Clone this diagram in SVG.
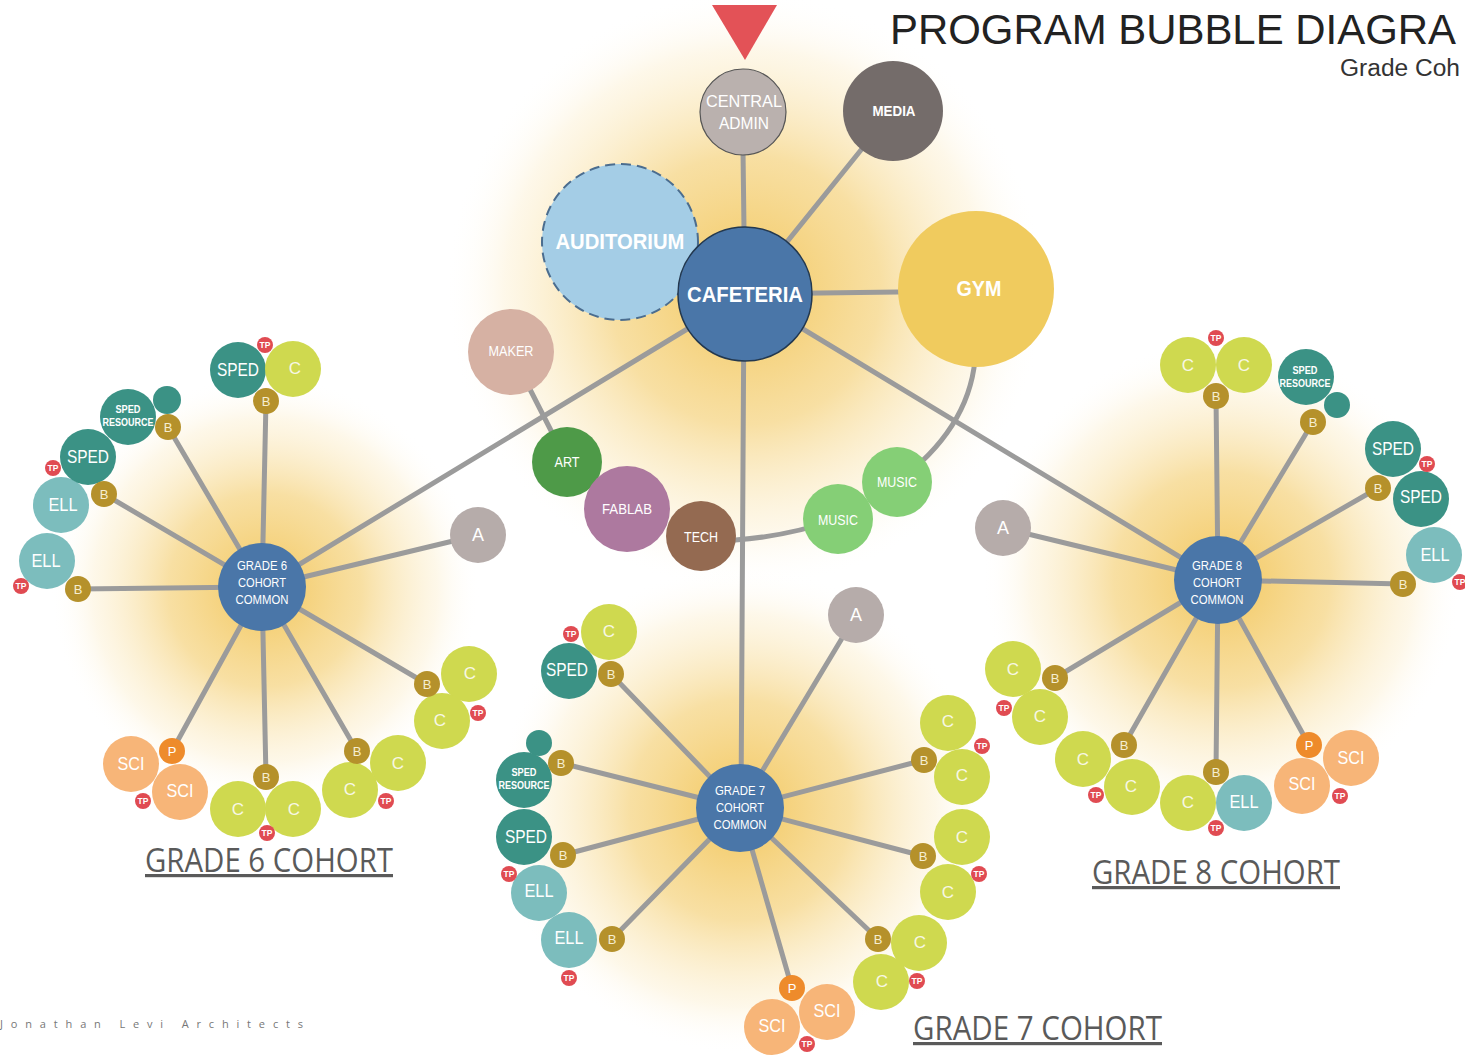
<svg xmlns="http://www.w3.org/2000/svg" width="1465" height="1055" viewBox="0 0 1465 1055">
<defs>
<radialGradient id="glow" cx="0.5" cy="0.5" r="0.5">
<stop offset="0" stop-color="#f2c455" stop-opacity="0.95"/>
<stop offset="0.45" stop-color="#f5d37f" stop-opacity="0.72"/>
<stop offset="0.8" stop-color="#fbeac0" stop-opacity="0.35"/>
<stop offset="1" stop-color="#ffffff" stop-opacity="0"/>
</radialGradient>
<style>
.n text{font-family:"Liberation Sans Narrow","Liberation Sans",Arial,sans-serif;fill:#fff;text-anchor:middle;dominant-baseline:central}
.c circle{fill:#cfd94f}.c text{font-size:17px;fill:#f7f7e4}
.b circle{fill:#b5912b}.b text{font-size:13px;fill:#f6eed2}
.tp circle{fill:#e04b52}.tp text{font-size:8.5px;font-weight:bold}
.p circle{fill:#ee8b2b}.p text{font-size:13px}
.sped circle{fill:#3b9285}.sped text{font-size:18px}
.sr circle{fill:#3b9285}.sr text{font-size:10px;font-weight:bold}
.dot circle{fill:#3b9285}
.ell circle{fill:#7cbdbd}.ell text{font-size:18px}
.sci circle{fill:#f7b578}.sci text{font-size:18px}
.a circle{fill:#b6acaa}.a text{font-size:18px}
.cc circle{fill:#4a76a8}.cc text{font-size:12.5px}
.m text{font-size:14px}
.big text{font-size:22px;font-weight:bold}
.cohort{font-family:"Open Sans","Liberation Sans",sans-serif;font-weight:400;font-size:32px;fill:#5a5a5a;text-decoration:underline}
</style>
</defs>
<rect width="1465" height="1055" fill="#ffffff"/>
<g id="glows">
<circle cx="745" cy="290" r="300" fill="url(#glow)"/>
<circle cx="265" cy="590" r="215" fill="url(#glow)"/>
<circle cx="740" cy="810" r="245" fill="url(#glow)"/>
<circle cx="1222" cy="580" r="240" fill="url(#glow)"/>
</g>
<polygon id="entry" points="712,5 777,5 745,60" fill="#e35257"/>
<text x="890" y="44" font-family="'Liberation Sans',Arial,sans-serif" font-size="42" fill="#222" textLength="566" lengthAdjust="spacingAndGlyphs">PROGRAM BUBBLE DIAGRA</text>
<text x="1340" y="76" font-family="'Liberation Sans',Arial,sans-serif" font-size="23" fill="#333" textLength="120" lengthAdjust="spacingAndGlyphs">Grade Coh</text>
<g id="connectors" stroke="#9b9b9b" stroke-width="5" fill="none" stroke-linecap="round">
<line x1="743" y1="150" x2="744" y2="230"/>
<line x1="745" y1="294" x2="865" y2="145"/>
<line x1="745" y1="294" x2="976" y2="291"/>
<line x1="745" y1="294" x2="262" y2="587"/>
<line x1="745" y1="294" x2="1218" y2="580"/>
<line x1="744" y1="294" x2="741" y2="808"/>
<line x1="511" y1="352" x2="567" y2="462"/>
<path d="M701,541 Q770,542 838,519"/>
<path d="M975,360 Q968,430 897,482"/>
<line x1="262" y1="587" x2="266" y2="401"/>
<line x1="262" y1="587" x2="168" y2="427"/>
<line x1="262" y1="587" x2="104" y2="494"/>
<line x1="262" y1="587" x2="78" y2="589"/>
<line x1="262" y1="587" x2="478" y2="535"/>
<line x1="262" y1="587" x2="427" y2="684"/>
<line x1="262" y1="587" x2="357" y2="751"/>
<line x1="262" y1="587" x2="266" y2="777"/>
<line x1="262" y1="587" x2="172" y2="751"/>
<line x1="740" y1="808" x2="611" y2="674"/>
<line x1="740" y1="808" x2="561" y2="763"/>
<line x1="740" y1="808" x2="563" y2="855"/>
<line x1="740" y1="808" x2="612" y2="939"/>
<line x1="740" y1="808" x2="856" y2="615"/>
<line x1="740" y1="808" x2="924" y2="760"/>
<line x1="740" y1="808" x2="923" y2="856"/>
<line x1="740" y1="808" x2="878" y2="939"/>
<line x1="740" y1="808" x2="792" y2="988"/>
<line x1="1218" y1="580" x2="1216" y2="396"/>
<line x1="1218" y1="580" x2="1313" y2="422"/>
<line x1="1218" y1="580" x2="1378" y2="488"/>
<line x1="1218" y1="580" x2="1403" y2="584"/>
<line x1="1218" y1="580" x2="1003" y2="528"/>
<line x1="1218" y1="580" x2="1055" y2="678"/>
<line x1="1218" y1="580" x2="1124" y2="745"/>
<line x1="1218" y1="580" x2="1216" y2="772"/>
<line x1="1218" y1="580" x2="1309" y2="745"/>
</g>
<g id="central">
<g id="admin" class="n"><circle cx="743" cy="112" r="43" fill="#bab1ae" stroke="#555" stroke-width="1.2"/><text x="744" y="101" font-size="17" textLength="76" lengthAdjust="spacingAndGlyphs">CENTRAL</text><text x="744" y="123" font-size="17" textLength="50" lengthAdjust="spacingAndGlyphs">ADMIN</text></g>
<g id="media" class="n"><circle cx="893" cy="111" r="50" fill="#746c6a"/><text x="894" y="110" font-size="15" font-weight="bold" textLength="43" lengthAdjust="spacingAndGlyphs">MEDIA</text></g>
<g id="auditorium" class="n big"><circle cx="620" cy="242" r="78" fill="#a4cde6" stroke="#4b6d8f" stroke-width="2" stroke-dasharray="10 6"/><text x="620" y="241" textLength="129" lengthAdjust="spacingAndGlyphs">AUDITORIUM</text></g>
<g id="cafeteria" class="n big"><circle cx="745" cy="294" r="67" fill="#4a76a8" stroke="#23384f" stroke-width="1.5"/><text x="745" y="294" font-size="23" textLength="116" lengthAdjust="spacingAndGlyphs">CAFETERIA</text></g>
<g id="gym" class="n big"><circle cx="976" cy="289" r="78" fill="#f0cb5e"/><text x="979" y="288" textLength="45" lengthAdjust="spacingAndGlyphs">GYM</text></g>
<g id="maker" class="n m"><circle cx="511" cy="352" r="43" fill="#d6b1a3"/><text x="511" y="351" textLength="45" lengthAdjust="spacingAndGlyphs">MAKER</text></g>
<g id="art" class="n m"><circle cx="567" cy="462" r="35" fill="#4e9a48"/><text x="567" y="462" textLength="25" lengthAdjust="spacingAndGlyphs">ART</text></g>
<g id="fablab" class="n m"><circle cx="627" cy="509" r="43" fill="#ad799f"/><text x="627" y="509" textLength="50" lengthAdjust="spacingAndGlyphs">FABLAB</text></g>
<g id="tech" class="n m"><circle cx="701" cy="536" r="35" fill="#946a51"/><text x="701" y="537" textLength="34" lengthAdjust="spacingAndGlyphs">TECH</text></g>
<g id="music1" class="n m"><circle cx="897" cy="482" r="35" fill="#85cf76"/><text x="897" y="482" textLength="40" lengthAdjust="spacingAndGlyphs">MUSIC</text></g>
<g id="music2" class="n m"><circle cx="838" cy="519" r="35" fill="#85cf76"/><text x="838" y="520" textLength="40" lengthAdjust="spacingAndGlyphs">MUSIC</text></g>
</g>
<g id="grade6">
<g id="g6-sped1" class="n sped"><circle cx="238" cy="370" r="28"/><text x="238" y="370" textLength="42" lengthAdjust="spacingAndGlyphs">SPED</text></g>
<g id="g6-c1" class="n c"><circle cx="293" cy="369" r="28"/><text x="295" y="368">C</text></g>
<g id="g6-b1" class="n b"><circle cx="266" cy="401" r="13"/><text x="266" y="401">B</text></g>
<g id="g6-tp1" class="n tp"><circle cx="265" cy="345" r="8"/><text x="265" y="345">TP</text></g>
<g id="g6-dot" class="n dot"><circle cx="167" cy="400" r="14"/></g>
<g id="g6-spedres" class="n sr"><circle cx="128" cy="417" r="28"/><text x="128" y="409" textLength="25" lengthAdjust="spacingAndGlyphs">SPED</text><text x="128" y="422" textLength="51" lengthAdjust="spacingAndGlyphs">RESOURCE</text></g>
<g id="g6-b2" class="n b"><circle cx="168" cy="427" r="13"/><text x="168" y="427">B</text></g>
<g id="g6-ell1" class="n ell"><circle cx="61" cy="505" r="28"/><text x="63" y="505" textLength="29" lengthAdjust="spacingAndGlyphs">ELL</text></g>
<g id="g6-sped2" class="n sped"><circle cx="88" cy="457" r="28"/><text x="88" y="457" textLength="42" lengthAdjust="spacingAndGlyphs">SPED</text></g>
<g id="g6-tp2" class="n tp"><circle cx="53" cy="468" r="8"/><text x="53" y="468">TP</text></g>
<g id="g6-b3" class="n b"><circle cx="104" cy="494" r="13"/><text x="104" y="494">B</text></g>
<g id="g6-ell2" class="n ell"><circle cx="47" cy="561" r="28"/><text x="46" y="561" textLength="29" lengthAdjust="spacingAndGlyphs">ELL</text></g>
<g id="g6-tp3" class="n tp"><circle cx="21" cy="586" r="8"/><text x="21" y="586">TP</text></g>
<g id="g6-b4" class="n b"><circle cx="78" cy="589" r="13"/><text x="78" y="589">B</text></g>
<g id="g6-a" class="n a"><circle cx="478" cy="535" r="28"/><text x="478" y="535">A</text></g>
<g id="g6-c2" class="n c"><circle cx="469" cy="674" r="28"/><text x="470" y="673">C</text></g>
<g id="g6-c3" class="n c"><circle cx="442" cy="721" r="28"/><text x="440" y="720">C</text></g>
<g id="g6-b5" class="n b"><circle cx="427" cy="684" r="13"/><text x="427" y="684">B</text></g>
<g id="g6-tp4" class="n tp"><circle cx="478" cy="713" r="8"/><text x="478" y="713">TP</text></g>
<g id="g6-c4" class="n c"><circle cx="398" cy="763" r="28"/><text x="398" y="763">C</text></g>
<g id="g6-c5" class="n c"><circle cx="350" cy="790" r="28"/><text x="350" y="789">C</text></g>
<g id="g6-b6" class="n b"><circle cx="357" cy="751" r="13"/><text x="357" y="751">B</text></g>
<g id="g6-tp5" class="n tp"><circle cx="386" cy="801" r="8"/><text x="386" y="801">TP</text></g>
<g id="g6-c6" class="n c"><circle cx="238" cy="809" r="28"/><text x="238" y="809">C</text></g>
<g id="g6-c7" class="n c"><circle cx="293" cy="809" r="28"/><text x="294" y="809">C</text></g>
<g id="g6-b7" class="n b"><circle cx="266" cy="777" r="13"/><text x="266" y="777">B</text></g>
<g id="g6-tp6" class="n tp"><circle cx="267" cy="833" r="8"/><text x="267" y="833">TP</text></g>
<g id="g6-sci1" class="n sci"><circle cx="131" cy="764" r="28"/><text x="131" y="764" textLength="27" lengthAdjust="spacingAndGlyphs">SCI</text></g>
<g id="g6-sci2" class="n sci"><circle cx="180" cy="792" r="28"/><text x="180" y="791" textLength="27" lengthAdjust="spacingAndGlyphs">SCI</text></g>
<g id="g6-p" class="n p"><circle cx="172" cy="751" r="13"/><text x="172" y="751">P</text></g>
<g id="g6-tp7" class="n tp"><circle cx="143" cy="801" r="8"/><text x="143" y="801">TP</text></g>
<g id="g6-common" class="n cc"><circle cx="262" cy="587" r="44"/><text x="262" y="566" textLength="50" lengthAdjust="spacingAndGlyphs">GRADE 6</text><text x="262" y="583" textLength="48" lengthAdjust="spacingAndGlyphs">COHORT</text><text x="262" y="600" textLength="53" lengthAdjust="spacingAndGlyphs">COMMON</text></g>
<text class="cohort" x="145" y="872" textLength="248" lengthAdjust="spacingAndGlyphs">GRADE 6 COHORT</text>
</g>
<g id="grade7">
<g id="g7-c1" class="n c"><circle cx="609" cy="632" r="28"/><text x="609" y="631">C</text></g>
<g id="g7-sped1" class="n sped"><circle cx="569" cy="671" r="28"/><text x="567" y="670" textLength="42" lengthAdjust="spacingAndGlyphs">SPED</text></g>
<g id="g7-tp1" class="n tp"><circle cx="571" cy="634" r="8"/><text x="571" y="634">TP</text></g>
<g id="g7-b1" class="n b"><circle cx="611" cy="674" r="13"/><text x="611" y="674">B</text></g>
<g id="g7-dot" class="n dot"><circle cx="539" cy="743" r="13"/></g>
<g id="g7-spedres" class="n sr"><circle cx="524" cy="780" r="28"/><text x="524" y="772" textLength="25" lengthAdjust="spacingAndGlyphs">SPED</text><text x="524" y="785" textLength="51" lengthAdjust="spacingAndGlyphs">RESOURCE</text></g>
<g id="g7-b2" class="n b"><circle cx="561" cy="763" r="13"/><text x="561" y="763">B</text></g>
<g id="g7-ell1" class="n ell"><circle cx="539" cy="893" r="28"/><text x="539" y="891" textLength="29" lengthAdjust="spacingAndGlyphs">ELL</text></g>
<g id="g7-sped2" class="n sped"><circle cx="524" cy="837" r="28"/><text x="526" y="837" textLength="42" lengthAdjust="spacingAndGlyphs">SPED</text></g>
<g id="g7-b3" class="n b"><circle cx="563" cy="855" r="13"/><text x="563" y="855">B</text></g>
<g id="g7-tp2" class="n tp"><circle cx="509" cy="874" r="8"/><text x="509" y="874">TP</text></g>
<g id="g7-ell2" class="n ell"><circle cx="569" cy="940" r="28"/><text x="569" y="938" textLength="29" lengthAdjust="spacingAndGlyphs">ELL</text></g>
<g id="g7-b4" class="n b"><circle cx="612" cy="939" r="13"/><text x="612" y="939">B</text></g>
<g id="g7-tp3" class="n tp"><circle cx="569" cy="978" r="8"/><text x="569" y="978">TP</text></g>
<g id="g7-a" class="n a"><circle cx="856" cy="615" r="28"/><text x="856" y="615">A</text></g>
<g id="g7-c2" class="n c"><circle cx="948" cy="723" r="28"/><text x="948" y="721">C</text></g>
<g id="g7-c3" class="n c"><circle cx="962" cy="777" r="28"/><text x="962" y="775">C</text></g>
<g id="g7-b5" class="n b"><circle cx="924" cy="760" r="13"/><text x="924" y="760">B</text></g>
<g id="g7-tp4" class="n tp"><circle cx="982" cy="746" r="8"/><text x="982" y="746">TP</text></g>
<g id="g7-c4" class="n c"><circle cx="962" cy="837" r="28"/><text x="962" y="837">C</text></g>
<g id="g7-c5" class="n c"><circle cx="948" cy="892" r="28"/><text x="948" y="892">C</text></g>
<g id="g7-b6" class="n b"><circle cx="923" cy="856" r="13"/><text x="923" y="856">B</text></g>
<g id="g7-tp5" class="n tp"><circle cx="979" cy="874" r="8"/><text x="979" y="874">TP</text></g>
<g id="g7-c6" class="n c"><circle cx="919" cy="943" r="28"/><text x="920" y="942">C</text></g>
<g id="g7-c7" class="n c"><circle cx="881" cy="982" r="28"/><text x="882" y="981">C</text></g>
<g id="g7-b7" class="n b"><circle cx="878" cy="939" r="13"/><text x="878" y="939">B</text></g>
<g id="g7-tp6" class="n tp"><circle cx="917" cy="981" r="8"/><text x="917" y="981">TP</text></g>
<g id="g7-sci1" class="n sci"><circle cx="827" cy="1012" r="28"/><text x="827" y="1011" textLength="27" lengthAdjust="spacingAndGlyphs">SCI</text></g>
<g id="g7-sci2" class="n sci"><circle cx="772" cy="1027" r="28"/><text x="772" y="1026" textLength="27" lengthAdjust="spacingAndGlyphs">SCI</text></g>
<g id="g7-p" class="n p"><circle cx="792" cy="988" r="13"/><text x="792" y="988">P</text></g>
<g id="g7-tp7" class="n tp"><circle cx="807" cy="1044" r="8"/><text x="807" y="1044">TP</text></g>
<g id="g7-common" class="n cc"><circle cx="740" cy="808" r="44"/><text x="740" y="791" textLength="50" lengthAdjust="spacingAndGlyphs">GRADE 7</text><text x="740" y="808" textLength="48" lengthAdjust="spacingAndGlyphs">COHORT</text><text x="740" y="825" textLength="53" lengthAdjust="spacingAndGlyphs">COMMON</text></g>
<text class="cohort" x="913" y="1040" textLength="249" lengthAdjust="spacingAndGlyphs">GRADE 7 COHORT</text>
</g>
<g id="grade8">
<g id="g8-c1" class="n c"><circle cx="1188" cy="365" r="28"/><text x="1188" y="365">C</text></g>
<g id="g8-c2" class="n c"><circle cx="1244" cy="365" r="28"/><text x="1244" y="365">C</text></g>
<g id="g8-b1" class="n b"><circle cx="1216" cy="396" r="13"/><text x="1216" y="396">B</text></g>
<g id="g8-tp1" class="n tp"><circle cx="1216" cy="338" r="8"/><text x="1216" y="338">TP</text></g>
<g id="g8-dot" class="n dot"><circle cx="1337" cy="405" r="13"/></g>
<g id="g8-spedres" class="n sr"><circle cx="1306" cy="377" r="28"/><text x="1305" y="370" textLength="25" lengthAdjust="spacingAndGlyphs">SPED</text><text x="1305" y="383" textLength="51" lengthAdjust="spacingAndGlyphs">RESOURCE</text></g>
<g id="g8-b2" class="n b"><circle cx="1313" cy="422" r="13"/><text x="1313" y="422">B</text></g>
<g id="g8-sped1" class="n sped"><circle cx="1393" cy="449" r="28"/><text x="1393" y="449" textLength="42" lengthAdjust="spacingAndGlyphs">SPED</text></g>
<g id="g8-sped2" class="n sped"><circle cx="1421" cy="499" r="28"/><text x="1421" y="497" textLength="42" lengthAdjust="spacingAndGlyphs">SPED</text></g>
<g id="g8-tp2" class="n tp"><circle cx="1427" cy="464" r="8"/><text x="1427" y="464">TP</text></g>
<g id="g8-b3" class="n b"><circle cx="1378" cy="488" r="13"/><text x="1378" y="488">B</text></g>
<g id="g8-ell1" class="n ell"><circle cx="1434" cy="555" r="28"/><text x="1435" y="555" textLength="29" lengthAdjust="spacingAndGlyphs">ELL</text></g>
<g id="g8-b4" class="n b"><circle cx="1403" cy="584" r="13"/><text x="1403" y="584">B</text></g>
<g id="g8-tp3" class="n tp"><circle cx="1460" cy="582" r="8"/><text x="1460" y="582">TP</text></g>
<g id="g8-a" class="n a"><circle cx="1003" cy="528" r="28"/><text x="1003" y="528">A</text></g>
<g id="g8-c3" class="n c"><circle cx="1013" cy="669" r="28"/><text x="1013" y="669">C</text></g>
<g id="g8-c4" class="n c"><circle cx="1040" cy="717" r="28"/><text x="1040" y="716">C</text></g>
<g id="g8-b5" class="n b"><circle cx="1055" cy="678" r="13"/><text x="1055" y="678">B</text></g>
<g id="g8-tp4" class="n tp"><circle cx="1004" cy="708" r="8"/><text x="1004" y="708">TP</text></g>
<g id="g8-c5" class="n c"><circle cx="1083" cy="759" r="28"/><text x="1083" y="759">C</text></g>
<g id="g8-c6" class="n c"><circle cx="1132" cy="787" r="28"/><text x="1131" y="786">C</text></g>
<g id="g8-b6" class="n b"><circle cx="1124" cy="745" r="13"/><text x="1124" y="745">B</text></g>
<g id="g8-tp5" class="n tp"><circle cx="1096" cy="795" r="8"/><text x="1096" y="795">TP</text></g>
<g id="g8-c7" class="n c"><circle cx="1188" cy="803" r="28"/><text x="1188" y="802">C</text></g>
<g id="g8-ell2" class="n ell"><circle cx="1244" cy="803" r="28"/><text x="1244" y="802" textLength="29" lengthAdjust="spacingAndGlyphs">ELL</text></g>
<g id="g8-b7" class="n b"><circle cx="1216" cy="772" r="13"/><text x="1216" y="772">B</text></g>
<g id="g8-tp6" class="n tp"><circle cx="1216" cy="828" r="8"/><text x="1216" y="828">TP</text></g>
<g id="g8-sci1" class="n sci"><circle cx="1351" cy="758" r="28"/><text x="1351" y="758" textLength="27" lengthAdjust="spacingAndGlyphs">SCI</text></g>
<g id="g8-sci2" class="n sci"><circle cx="1302" cy="786" r="28"/><text x="1302" y="784" textLength="27" lengthAdjust="spacingAndGlyphs">SCI</text></g>
<g id="g8-p" class="n p"><circle cx="1309" cy="745" r="13"/><text x="1309" y="745">P</text></g>
<g id="g8-tp7" class="n tp"><circle cx="1340" cy="796" r="8"/><text x="1340" y="796">TP</text></g>
<g id="g8-common" class="n cc"><circle cx="1218" cy="580" r="44"/><text x="1217" y="566" textLength="50" lengthAdjust="spacingAndGlyphs">GRADE 8</text><text x="1217" y="583" textLength="48" lengthAdjust="spacingAndGlyphs">COHORT</text><text x="1217" y="600" textLength="53" lengthAdjust="spacingAndGlyphs">COMMON</text></g>
<text class="cohort" x="1092" y="884" textLength="248" lengthAdjust="spacingAndGlyphs">GRADE 8 COHORT</text>
</g>
<text id="credit" x="0" y="1028" font-family="'Open Sans','Liberation Sans',sans-serif" font-size="11" fill="#777" textLength="303" lengthAdjust="spacing">Jonathan Levi Architects</text>
</svg>
